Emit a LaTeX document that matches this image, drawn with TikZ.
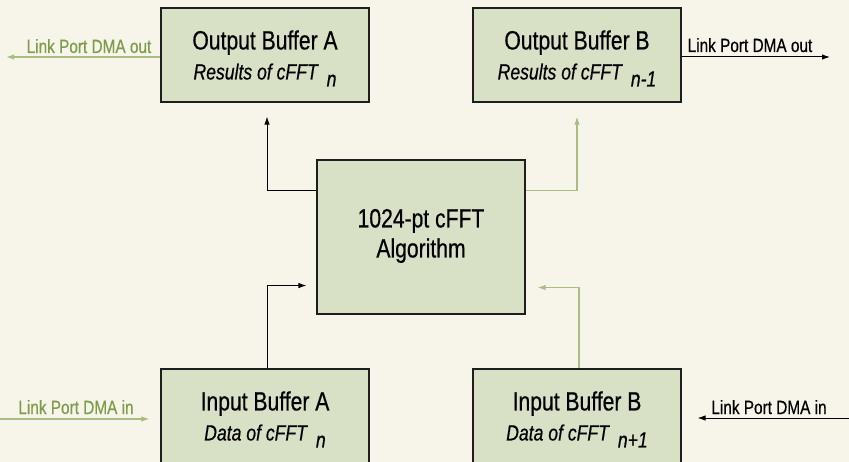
\documentclass[tikz,border=0pt]{standalone}
\usepackage{fontspec}
\setmainfont{Liberation Sans}[FakeStretch=0.8, FakeBold=0.5]
\usetikzlibrary{arrows.meta,calc}

\definecolor{paper}{HTML}{F7F5EA}
\definecolor{boxfill}{HTML}{D8E0C5}
\definecolor{boxline}{HTML}{1E1E1E}
\definecolor{greenline}{HTML}{A9BD82}
\definecolor{greentext}{HTML}{7F9C4C}

\tikzset{
  x=1bp, y=-1bp,
  buf/.style={draw=boxline, fill=boxfill, line width=1.1bp,
    minimum width=208bp, minimum height=94bp, inner sep=0pt},
  algbox/.style={draw=boxline, fill=boxfill, line width=1.1bp,
    minimum width=208bp, minimum height=154bp, inner sep=0pt},
  ttl/.style={anchor=base, inner sep=0pt, font=\fontsize{26.4bp}{30bp}\selectfont},
  sub/.style={anchor=base, inner sep=0pt, font=\fontsize{22bp}{26bp}\selectfont\itshape},
  lbl/.style={anchor=base, inner sep=0pt, font=\fontsize{19.2bp}{22bp}\selectfont},
  tip/.style={-{Latex[length=8bp,width=5.5bp]}},
  blk/.style={tip, draw=black, line width=1bp},
  grn/.style={tip, draw=greenline, line width=1.3bp},
}

\begin{document}
\begin{tikzpicture}
  \useasboundingbox (0,0) rectangle (849,462);
  \clip (0,0) rectangle (849,462);
  \fill[paper] (0,0) rectangle (849,462);

  % buffers and the FFT block
  \node[buf] (oba) at (265,55) {};
  \node[buf] (obb) at (577,55) {};
  \node[buf] (iba) at (265,416) {};
  \node[buf] (ibb) at (577,416) {};
  \node[algbox] (alg) at (421,237) {};

  % box texts
  \node[ttl] (oba-t) at ($(oba.north)+(0,42)$) {Output Buffer A};
  \node[sub] (oba-s) at ($(oba.north)+(0,72)$) {Results of cFFT\hspace{9bp}\raisebox{-7bp}{n}};
  \node[ttl] (obb-t) at ($(obb.north)+(0,42)$) {Output Buffer B};
  \node[sub] (obb-s) at ($(obb.north)+(0,72)$) {Results of cFFT\hspace{9bp}\raisebox{-7bp}{n-1}};
  \node[ttl] (iba-t) at ($(iba.north)+(0,42)$) {Input Buffer A};
  \node[sub] (iba-s) at ($(iba.north)+(0,72)$) {Data of cFFT\hspace{9bp}\raisebox{-7bp}{n}};
  \node[ttl] (ibb-t) at ($(ibb.north)+(0,42)$) {Input Buffer B};
  \node[sub] (ibb-s) at ($(ibb.north)+(0,72)$) {Data of cFFT\hspace{9bp}\raisebox{-7bp}{n+1}};
  \node[ttl] (alg-t) at ($(alg.north)+(0,68)$) {1024-pt cFFT};
  \node[ttl] (alg-u) at ($(alg.north)+(0,98)$) {Algorithm};

  % data flow through the FFT block
  \draw[blk, shorten >=14bp] ($(alg.north west)+(0,31)$) -| ([xshift=2bp]oba.south);
  \draw[grn, shorten >=14bp] ($(alg.north east)+(0,31)$) -| (obb.south);
  \draw[blk, shorten >=10bp] ([xshift=2bp]iba.north) |- ($(alg.south west)+(0,-29)$);
  \draw[grn, shorten >=12bp] ([xshift=2bp]ibb.north) |- ($(alg.south east)+(0,-27)$);

  % link port transfers
  \coordinate (loa) at (6,57);
  \coordinate (lob) at (830,57);
  \coordinate (lia) at (0,419);
  \coordinate (lib) at (849,418);
  \draw[grn] (oba.west |- loa) -- (loa);
  \draw[blk] (obb.east |- lob) -- (lob);
  \draw[grn, shorten >=11bp] (lia) -- (iba.west |- lia);
  \draw[blk, shorten >=16bp] (lib) -- (ibb.east |- lib);

  \node[lbl, text=greentext] (loa-l) at (89,53) {Link Port DMA out};
  \node[lbl] (lob-l) at (750,52) {Link Port DMA out};
  \node[lbl, text=greentext] (lia-l) at (76,414) {Link Port DMA in};
  \node[lbl] (lib-l) at (769,414) {Link Port DMA in};
\end{tikzpicture}
\end{document}
